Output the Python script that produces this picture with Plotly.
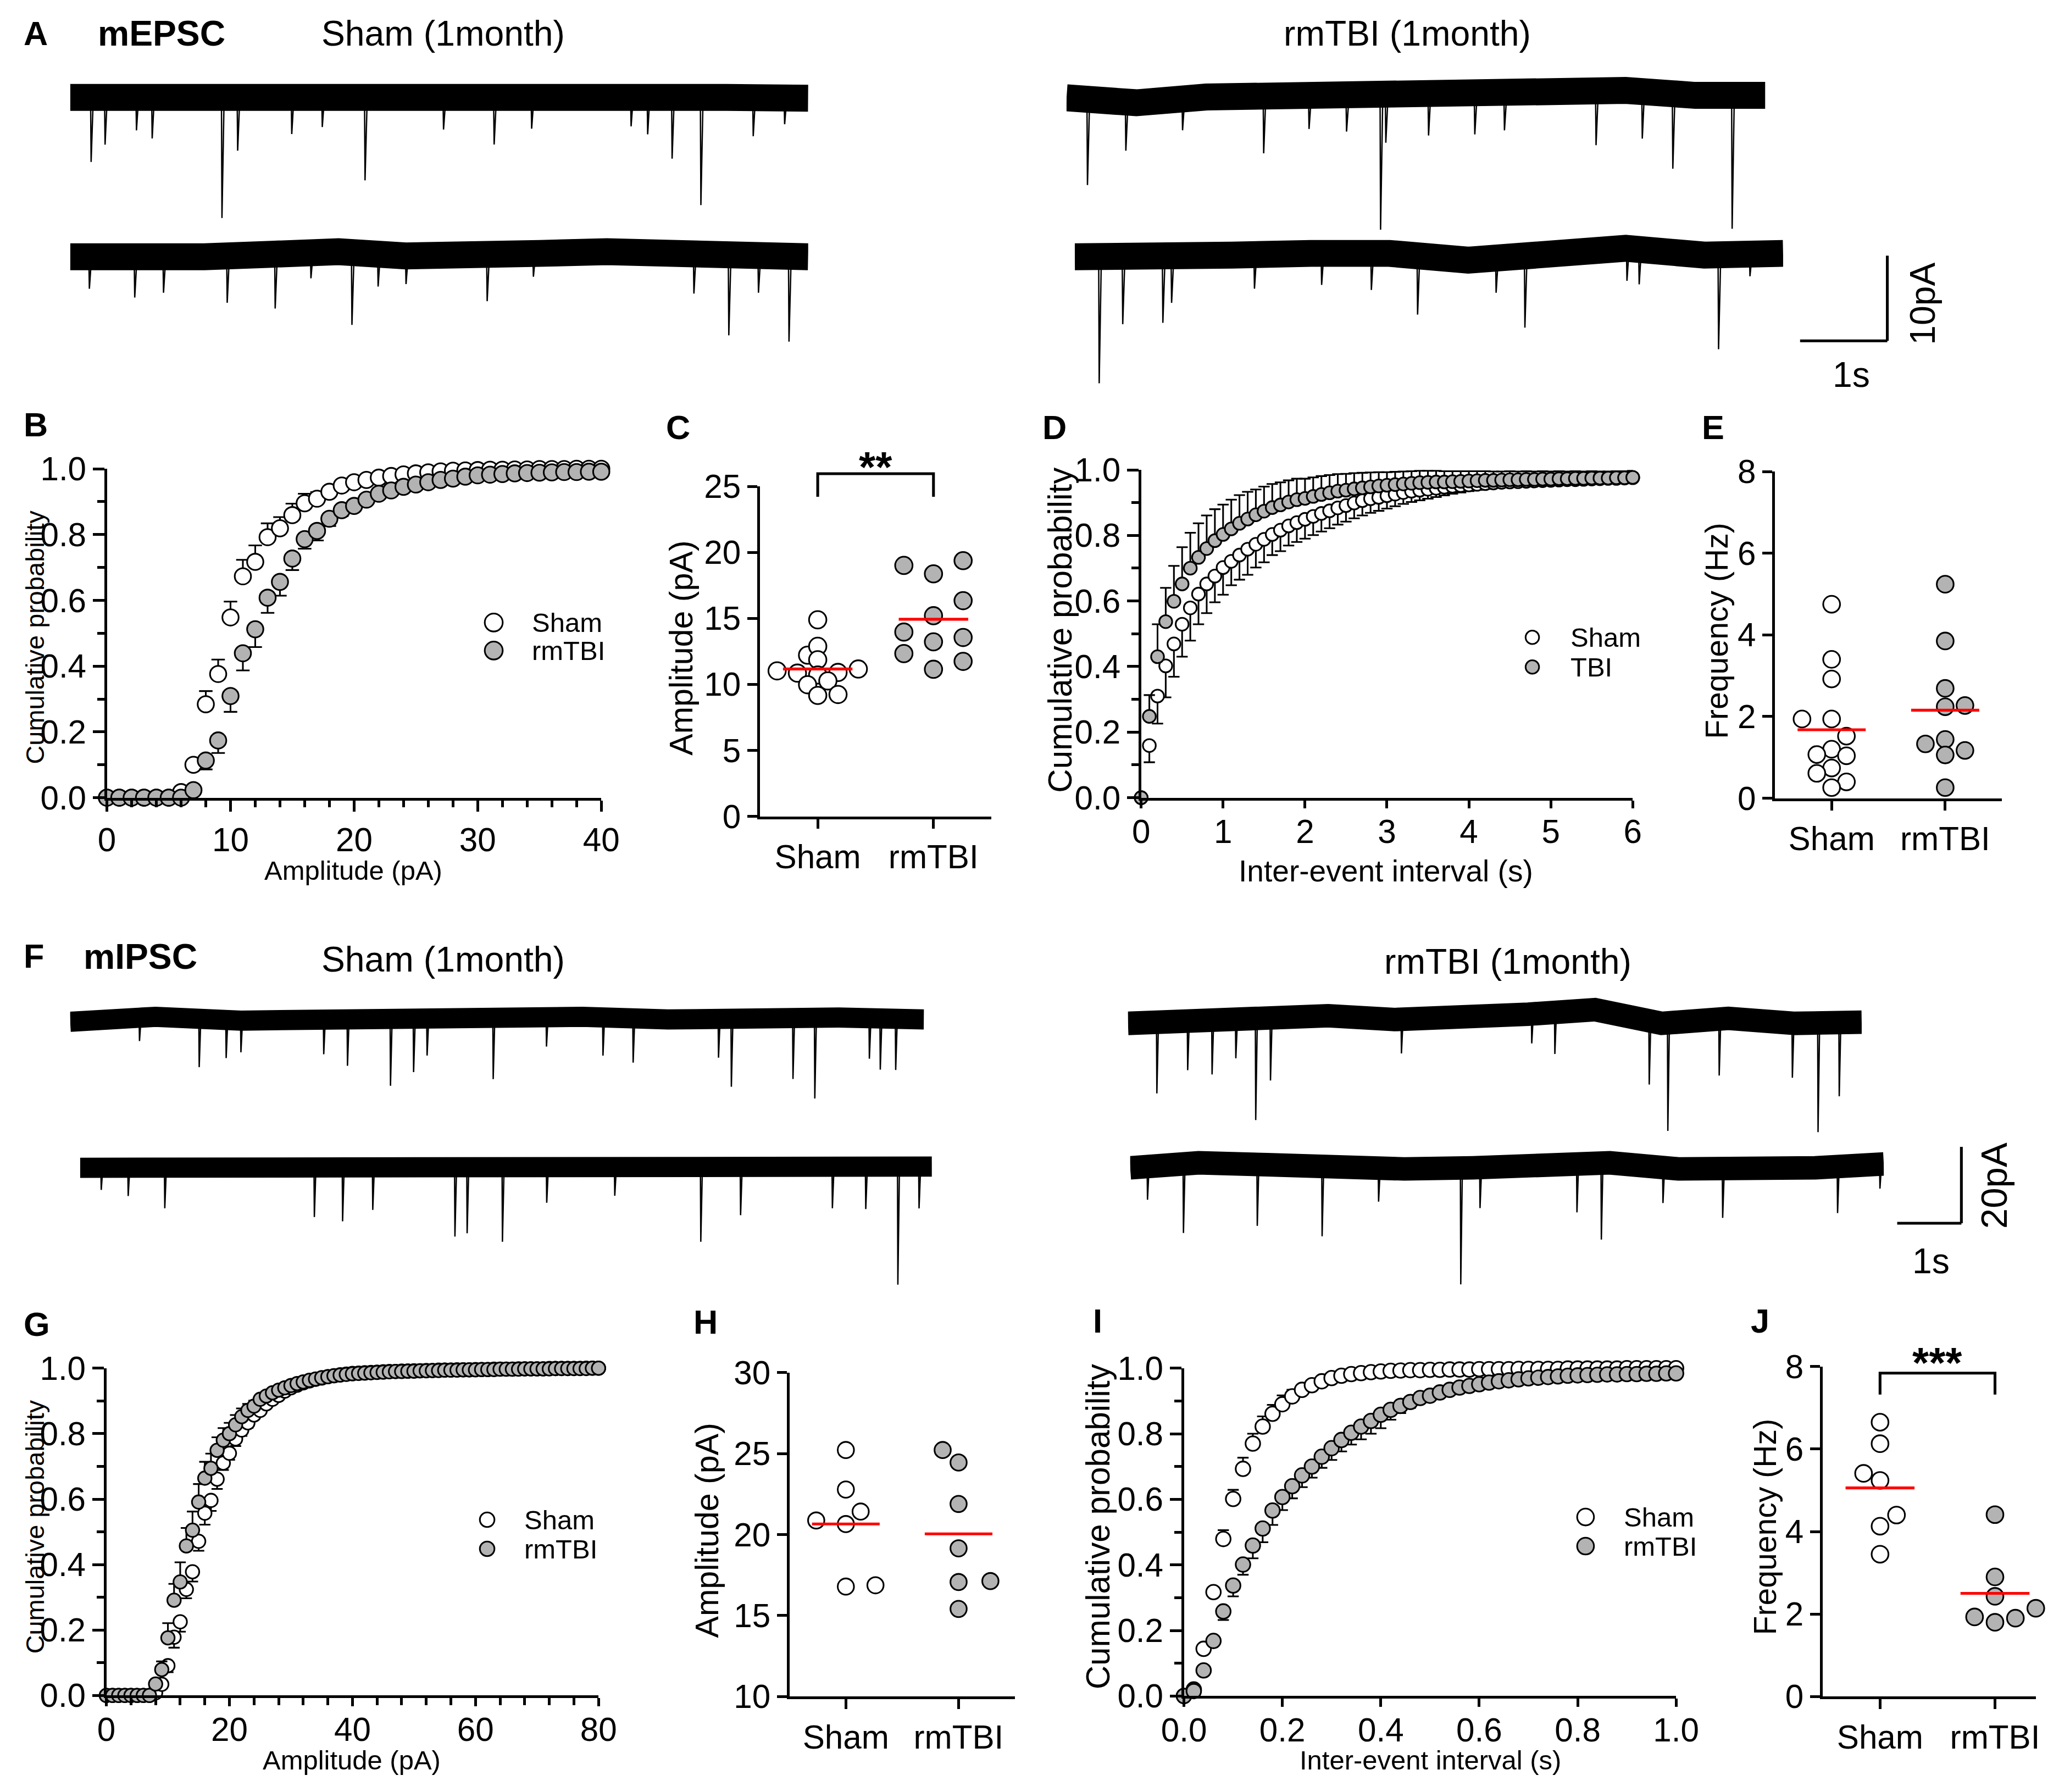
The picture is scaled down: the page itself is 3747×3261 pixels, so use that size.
import numpy as np
import plotly.graph_objects as go

# ======================= DATA =======================
# ---- Panel B: mEPSC amplitude, cumulative probability ----
b_amp = list(range(0, 41))
b_sham = [0, 0, 0, 0, 0, 0, 0.017, 0.10, 0.284, 0.376, 0.548, 0.673, 0.717, 0.792, 0.819, 0.859,
          0.895, 0.909, 0.930, 0.949, 0.959, 0.966, 0.973, 0.978, 0.983, 0.986, 0.989, 0.992, 0.994,
          0.995, 0.996, 0.997, 0.997, 0.998, 0.998, 0.999, 0.999, 0.999, 1.0, 1.0, 1.0]
b_sham_sem = [0, 0, 0, 0, 0, 0, 0, 0.004, 0.040, 0.044, 0.048, 0.050, 0.050, 0.042, 0.034, 0.035,
              0.029, 0.020, 0.015, 0.012, 0.010, 0.008, 0.007, 0.006, 0.005, 0.004, 0.003, 0.003,
              0.003, 0.002, 0.002, 0.002, 0.002, 0.002, 0.001, 0.001, 0.001, 0.001, 0.001, 0.001, 0.001]
b_tbi = [0, 0, 0, 0, 0, 0, 0, 0.023, 0.113, 0.174, 0.309, 0.439, 0.512, 0.608, 0.656, 0.727, 0.786,
         0.811, 0.848, 0.874, 0.887, 0.906, 0.924, 0.934, 0.945, 0.952, 0.959, 0.966, 0.970, 0.976,
         0.980, 0.982, 0.984, 0.986, 0.987, 0.988, 0.989, 0.990, 0.990, 0.991, 0.991]
b_tbi_sem = [0, 0, 0, 0, 0, 0, 0, 0, 0.027, 0.038, 0.048, 0.052, 0.054, 0.046, 0.042, 0.035, 0.029,
             0.029, 0.022, 0.018, 0.015, 0.012, 0.010, 0.009, 0.008, 0.007, 0.006, 0.005, 0.005,
             0.004, 0.004, 0.004, 0.003, 0.003, 0.003, 0.003, 0.002, 0.002, 0.002, 0.002, 0.002]

# ---- Panel C: mEPSC amplitude per cell (pA) ----
c_sham = [14.89, 12.21, 12.88, 11.86, 10.71, 10.90, 11.16, 11.02, 10.85, 10.26, 9.97, 9.23, 9.16]
c_tbi = [19.37, 18.37, 19.01, 16.34, 15.20, 13.55, 13.96, 13.22, 12.33, 11.74, 11.14]

# ---- Panel D: mEPSC inter-event interval, cumulative ----
d_iei = [i / 10 for i in range(61)]
d_sham = [0, 0.159, 0.310, 0.402, 0.469, 0.529, 0.579, 0.621, 0.652, 0.676,
          0.702, 0.721, 0.740, 0.758, 0.773, 0.788, 0.803, 0.816, 0.829, 0.839,
          0.849, 0.858, 0.867, 0.875, 0.884, 0.891, 0.899, 0.906, 0.912, 0.916,
          0.921, 0.926, 0.931, 0.935, 0.938, 0.941, 0.944, 0.947, 0.950, 0.952,
          0.954, 0.956, 0.958, 0.960, 0.962, 0.963, 0.964, 0.965, 0.966, 0.967,
          0.968, 0.969, 0.970, 0.970, 0.971, 0.972, 0.973, 0.974, 0.974, 0.975, 0.976]
d_sham_sem = [0, 0.051, 0.084, 0.096, 0.100, 0.099, 0.100, 0.092, 0.089, 0.080,
              0.083, 0.073, 0.075, 0.078, 0.071, 0.070, 0.063, 0.064, 0.060, 0.059,
              0.059, 0.057, 0.055, 0.053, 0.051, 0.049, 0.047, 0.045, 0.043, 0.041,
              0.039, 0.037, 0.035, 0.033, 0.031, 0.029, 0.027, 0.025, 0.023, 0.021,
              0.019, 0.017, 0.016, 0.015, 0.014, 0.013, 0.012, 0.011, 0.010, 0.010,
              0.009, 0.009, 0.008, 0.008, 0.008, 0.007, 0.007, 0.007, 0.006, 0.006, 0.006]
d_tbi = [0, 0.248, 0.430, 0.537, 0.599, 0.652, 0.700, 0.733, 0.760, 0.784,
         0.803, 0.820, 0.837, 0.850, 0.863, 0.874, 0.885, 0.893, 0.902, 0.909,
         0.913, 0.919, 0.925, 0.930, 0.935, 0.938, 0.942, 0.945, 0.948, 0.951,
         0.953, 0.955, 0.957, 0.959, 0.961, 0.962, 0.963, 0.963, 0.964, 0.965,
         0.966, 0.967, 0.968, 0.968, 0.969, 0.970, 0.970, 0.971, 0.971, 0.972,
         0.972, 0.973, 0.973, 0.974, 0.974, 0.975, 0.975, 0.975, 0.976, 0.976, 0.977]
d_tbi_sem = [0, 0.065, 0.099, 0.103, 0.108, 0.112, 0.108, 0.104, 0.101, 0.096,
             0.091, 0.089, 0.086, 0.083, 0.077, 0.075, 0.072, 0.069, 0.066, 0.064,
             0.060, 0.058, 0.056, 0.054, 0.052, 0.050, 0.048, 0.046, 0.044, 0.042,
             0.040, 0.039, 0.038, 0.037, 0.036, 0.035, 0.034, 0.033, 0.032, 0.031,
             0.030, 0.029, 0.028, 0.027, 0.026, 0.026, 0.025, 0.025, 0.024, 0.024,
             0.023, 0.023, 0.022, 0.022, 0.021, 0.021, 0.020, 0.020, 0.020, 0.020, 0.020]

# ---- Panel E: mEPSC frequency per cell (Hz) ----
e_sham = [4.75, 3.40, 2.92, 1.94, 1.94, 1.52, 1.20, 1.07, 1.04, 0.74, 0.61, 0.40, 0.26]
e_tbi = [5.24, 3.85, 2.69, 2.27, 2.24, 1.44, 1.33, 1.17, 1.06, 0.26]

# ---- Panel G: mIPSC amplitude, cumulative ----
g_amp = list(range(0, 81))
g_sham = [0, 0, 0, 0, 0, 0, 0, 0, 0.008, 0.034, 0.091, 0.178, 0.225, 0.324, 0.378, 0.471, 0.557,
          0.596, 0.661, 0.710, 0.740, 0.784, 0.811, 0.833, 0.857, 0.871, 0.891, 0.905, 0.917, 0.930,
          0.940, 0.948, 0.955, 0.961, 0.966, 0.970, 0.974, 0.977, 0.980, 0.982, 0.984,
          0.985, 0.986, 0.987, 0.988, 0.989, 0.990, 0.990, 0.991, 0.991, 0.992,
          0.992, 0.993, 0.993, 0.994, 0.994, 0.994, 0.995, 0.995, 0.995, 0.996,
          0.996, 0.996, 0.997, 0.997, 0.997, 0.997, 0.998, 0.998, 0.998, 0.998,
          0.998, 0.999, 0.999, 0.999, 0.999, 0.999, 0.999, 1.0, 1.0, 1.0]
g_sham_sem = [0, 0, 0, 0, 0, 0, 0, 0, 0, 0.010, 0.020, 0.032, 0.030, 0.027, 0.030, 0.029, 0.035,
              0.032, 0.030, 0.021, 0.020, 0.022, 0.018, 0.015, 0.013, 0.011, 0.009, 0.008, 0.007,
              0.006, 0.005, 0.004, 0.004, 0.003, 0.003, 0.003, 0.002, 0.002, 0.002, 0.002, 0.002,
              0.002, 0.002, 0.002, 0.002, 0.002, 0.001, 0.001, 0.001, 0.001, 0.001,
              0.001, 0.001, 0.001, 0.001, 0.001, 0.001, 0.001, 0.001, 0.001, 0.001,
              0.001, 0.001, 0.001, 0.001, 0.001, 0.001, 0.001, 0.001, 0.001, 0.001,
              0.001, 0.001, 0.001, 0.001, 0.001, 0.001, 0.001, 0.001, 0.001, 0.001]
g_tbi = [0, 0, 0, 0, 0, 0, 0, 0, 0.035, 0.079, 0.176, 0.291, 0.347, 0.457, 0.505, 0.591, 0.664,
         0.694, 0.749, 0.780, 0.800, 0.827, 0.852, 0.871, 0.884, 0.905, 0.915, 0.925, 0.933, 0.940,
         0.947, 0.953, 0.958, 0.963, 0.967, 0.971, 0.974, 0.977, 0.979, 0.981, 0.983,
         0.984, 0.985, 0.986, 0.987, 0.988, 0.989, 0.990, 0.990, 0.991, 0.991,
         0.992, 0.992, 0.993, 0.993, 0.994, 0.994, 0.994, 0.995, 0.995, 0.995,
         0.996, 0.996, 0.996, 0.997, 0.997, 0.997, 0.997, 0.998, 0.998, 0.998,
         0.998, 0.998, 0.999, 0.999, 0.999, 0.999, 0.999, 0.999, 1.0, 1.0]
g_tbi_sem = [0, 0, 0, 0, 0, 0, 0, 0, 0.010, 0.025, 0.045, 0.050, 0.060, 0.055, 0.057, 0.055, 0.050,
             0.045, 0.040, 0.037, 0.033, 0.030, 0.025, 0.020, 0.017, 0.013, 0.010, 0.008, 0.006,
             0.005, 0.004, 0.004, 0.003, 0.003, 0.003, 0.002, 0.002, 0.002, 0.002, 0.002, 0.002,
             0.002, 0.002, 0.002, 0.002, 0.002, 0.001, 0.001, 0.001, 0.001, 0.001,
             0.001, 0.001, 0.001, 0.001, 0.001, 0.001, 0.001, 0.001, 0.001, 0.001,
             0.001, 0.001, 0.001, 0.001, 0.001, 0.001, 0.001, 0.001, 0.001, 0.001,
             0.001, 0.001, 0.001, 0.001, 0.001, 0.001, 0.001, 0.001, 0.001, 0.001]

# ---- Panel H: mIPSC amplitude per cell (pA) ----
h_sham = [25.22, 22.78, 21.42, 20.65, 20.87, 16.79, 16.87]
h_tbi = [25.22, 24.45, 21.89, 19.15, 17.13, 17.07, 15.41]

# ---- Panel I: mIPSC inter-event interval, cumulative ----
i_iei = [i / 50 for i in range(51)]
i_sham = [0, 0.020, 0.144, 0.317, 0.479, 0.601, 0.693, 0.770, 0.822, 0.861,
          0.890, 0.914, 0.934, 0.948, 0.960, 0.970, 0.977, 0.982, 0.985, 0.988,
          0.990, 0.992, 0.993, 0.994, 0.994, 0.995, 0.995, 0.996, 0.996, 0.996,
          0.997, 0.997, 0.997, 0.997, 0.998, 0.998, 0.998, 0.998, 0.998, 0.999,
          0.999, 0.999, 0.999, 0.999, 0.999, 1.0, 1.0, 1.0, 1.0, 1.0, 1.0]
i_sham_sem = [0, 0, 0, 0, 0.027, 0.028, 0.034, 0.030, 0.031, 0.027,
              0.027, 0.020, 0.015, 0.012, 0.010, 0.008, 0.006, 0.005, 0.004, 0.003,
              0.003, 0.003, 0.002, 0.002, 0.002, 0.002, 0.002, 0.002, 0.001, 0.001,
              0.001, 0.001, 0.001, 0.001, 0.001, 0.001, 0.001, 0.001, 0.001, 0.001,
              0.001, 0.001, 0.001, 0.001, 0.001, 0.001, 0.001, 0.001, 0.001, 0.001, 0.001]
i_tbi = [0, 0.015, 0.078, 0.168, 0.258, 0.337, 0.401, 0.459, 0.511, 0.566,
         0.607, 0.640, 0.673, 0.700, 0.730, 0.756, 0.781, 0.803, 0.822, 0.839,
         0.858, 0.873, 0.885, 0.897, 0.909, 0.916, 0.926, 0.934, 0.941, 0.946,
         0.951, 0.956, 0.960, 0.963, 0.966, 0.969, 0.971, 0.973, 0.975, 0.977,
         0.978, 0.979, 0.980, 0.981, 0.981, 0.982, 0.982, 0.983, 0.983, 0.984, 0.984]
i_tbi_sem = [0, 0, 0, 0, 0.026, 0.033, 0.031, 0.039, 0.042, 0.044,
             0.040, 0.037, 0.036, 0.034, 0.034, 0.036, 0.035, 0.036, 0.039, 0.039,
             0.041, 0.030, 0.022, 0.018, 0.015, 0.013, 0.012, 0.011, 0.010, 0.010,
             0.009, 0.009, 0.008, 0.008, 0.008, 0.007, 0.007, 0.007, 0.006, 0.006,
             0.006, 0.006, 0.005, 0.005, 0.005, 0.005, 0.005, 0.004, 0.004, 0.004, 0.004]

# ---- Panel J: mIPSC frequency per cell (Hz) ----
j_sham = [6.65, 6.13, 5.41, 5.24, 4.40, 4.13, 3.45]
j_tbi = [4.41, 2.90, 2.43, 2.14, 1.90, 1.93, 1.80]

group_labels = ["Sham", "rmTBI"]

# ---- Example recordings (A, F): duration (s), baseline drift (pA), events (s, pA) ----
a_sham1_dur = 8.46
a_sham1_drift = [0, 0.1, 0.2, 0.1, -0.1, -0.3, 0, 0.2, 0, -0.1]
a_sham1_t = [0.24, 0.40, 0.76, 0.94, 1.74, 1.92, 2.54, 2.89, 3.38, 4.28, 4.86, 5.29, 6.43, 6.62, 6.90, 7.23, 7.83, 8.19]
a_sham1_amp = [7.9, 5.8, 4.1, 5.1, 14.9, 6.7, 4.6, 3.7, 10.1, 3.7, 5.5, 3.7, 3.7, 4.7, 7.6, 13.2, 4.7, 3.2]

a_sham2_dur = 8.46
a_sham2_drift = [0, -0.2, 0, 0.3, 0.6, 0.1, 0, 0.4, 0.6, 0.5, 0.1, 0]
a_sham2_t = [0.22, 0.74, 1.07, 1.80, 2.35, 2.76, 3.23, 3.53, 3.85, 4.78, 5.31, 7.15, 7.55, 7.89, 8.24]
a_sham2_amp = [3.7, 4.6, 4.1, 5.5, 6.4, 3.0, 8.5, 3.8, 3.3, 5.3, 2.7, 4.7, 9.4, 4.3, 10.0]

a_tbi1_dur = 8.01
a_tbi1_drift = [0, -0.6, 0.1, 0.3, -0.3, 0.5, 0.1, 0.3, 0.9, 0.3, 0.3]
a_tbi1_t = [0.24, 0.68, 1.33, 2.26, 2.78, 3.21, 3.60, 3.66, 4.15, 4.68, 5.02, 6.07, 6.60, 6.95, 7.63]
a_tbi1_amp = [10.4, 5.9, 3.8, 7.0, 3.8, 3.8, 16.1, 5.6, 5.0, 4.6, 4.1, 6.4, 5.7, 9.1, 16.2]

a_tbi2_dur = 8.12
a_tbi2_drift = [0, -0.2, 0.2, 0.4, 0.4, -0.4, 0.4, 1.0, 0.2, 0.4]
a_tbi2_t = [0.28, 0.55, 1.01, 1.11, 2.06, 2.83, 3.40, 3.93, 4.83, 5.16, 6.33, 6.47, 7.38, 7.74]
a_tbi2_amp = [14.8, 7.8, 7.6, 5.3, 4.0, 3.7, 4.3, 6.9, 4.1, 8.5, 3.8, 4.1, 11.1, 2.6]

f_sham1_dur = 13.3
f_sham1_drift = [-0.3, 1.0, 0, 0.5, 0, 0.8, 1.0, 0.3, 0.8, 0.8, 0.3]
f_sham1_t = [1.08, 2.01, 2.43, 2.66, 3.95, 4.32, 4.99, 5.35, 5.56, 6.59, 7.42, 8.30, 8.77, 10.10, 10.30, 11.26, 11.60, 12.45, 12.62, 12.86]
f_sham1_amp = [6.1, 12.7, 10.0, 8.3, 9.3, 12.2, 17.2, 13.5, 9.3, 16.1, 7.7, 10.0, 11.6, 10.3, 18.0, 16.1, 21.2, 10.6, 13.4, 13.4]

f_sham2_dur = 13.27
f_sham2_drift = [0, 0, 0.3, 0.3, 0, -0.3, 0, 0.3, 0, 0, 0.3]
f_sham2_t = [0.33, 0.75, 1.32, 3.65, 4.09, 4.56, 5.84, 6.03, 6.58, 7.27, 8.33, 9.67, 10.29, 11.72, 12.24, 12.74, 13.07]
f_sham2_amp = [5.8, 7.4, 10.6, 13.2, 14.3, 11.2, 17.9, 17.0, 19.1, 9.0, 7.4, 19.6, 12.5, 10.6, 10.9, 30.8, 10.9]

f_tbi1_dur = 11.43
f_tbi1_drift = [0, 0.6, 1.0, 2.0, 1.0, 1.3, 2.4, 3.6, 0, 1.3, 0, 0.3]
f_tbi1_t = [0.45, 0.93, 1.31, 1.68, 1.99, 2.22, 4.26, 6.29, 6.65, 8.12, 8.41, 9.21, 10.35, 10.75, 11.08]
f_tbi1_amp = [18.6, 12.8, 14.1, 10.0, 26.3, 16.1, 8.9, 7.7, 10.9, 16.7, 28.3, 14.8, 14.3, 28.6, 19.3]

f_tbi2_dur = 11.74
f_tbi2_drift = [0, 1.3, 0.8, 0, -0.3, 0, 0.3, 1.3, -0.3, -0.8, 0, 1.0]
f_tbi2_t = [0.27, 0.83, 1.98, 2.99, 3.87, 5.15, 5.45, 6.96, 7.34, 8.30, 9.23, 11.02, 11.68]
f_tbi2_amp = [8.7, 18.1, 16.1, 18.1, 8.7, 30.5, 10.6, 12.5, 20.0, 9.3, 12.5, 12.2, 6.4]

scale_a = (1, 10)   # 1 s, 10 pA
scale_f = (1, 20)   # 1 s, 20 pA

# ======================= STYLE / LAYOUT =======================
W, H = 3747, 3261
# the photographed page is framed with a small white border; positions below are given
# in final-picture pixels and mapped onto the figure canvas here
SX, SY, PX, PY = 0.9791, 0.9802, 40.0, 33.0
K = 1.0 / 0.98
FONT = "Liberation Sans, Arial, Helvetica, sans-serif"
GRAY = "#b3b3b3"
RED = "#ff0000"
AXW = 5

traces = []
layout = dict(width=W, height=H, margin=dict(l=0, r=0, t=0, b=0, pad=0), autosize=False,
              paper_bgcolor="white", plot_bgcolor="rgba(0,0,0,0)",
              showlegend=False, annotations=[], shapes=[])
_n = [0]


def cx_(t):
    return t / SX - PX


def cy_(t):
    return t / SY - PY


def px2x(t):
    return cx_(t) / W


def px2y(t):
    return 1 - cy_(t) / H


def new_axes(xpx, ypx, xrange, yrange, xkw, ykw):
    _n[0] += 1
    s = "" if _n[0] == 1 else str(_n[0])
    d0, d1 = px2x(xpx[0]), px2x(xpx[1])
    r0, r1 = xrange
    if d1 > 1:
        r1 = r0 + (r1 - r0) * (1 - d0) / (d1 - d0)
        d1 = 1.0
    if d0 < 0:
        r0 = r1 - (r1 - r0) * (d1 - 0) / (d1 - d0)
        d0 = 0.0
    e0, e1 = px2y(ypx[1]), px2y(ypx[0])
    layout["xaxis" + s] = dict(domain=[d0, d1], range=[r0, r1],
                               anchor="y" + s, fixedrange=True, **xkw)
    layout["yaxis" + s] = dict(domain=[max(e0, 0), min(e1, 1)], range=yrange,
                               anchor="x" + s, fixedrange=True, **ykw)
    return "x" + s, "y" + s


def ax_style(size, ticklen=20, **kw):
    d = dict(showline=True, linewidth=AXW * K, linecolor="black", ticks="outside",
             ticklen=ticklen * K, tickwidth=AXW * K, tickcolor="black",
             tickfont=dict(family=FONT, size=size * K, color="black"),
             showgrid=False, zeroline=False)
    d.update(kw)
    return d


def minor(dt, ln=12):
    return dict(dtick=dt, ticks="outside", ticklen=ln * K, tickwidth=AXW * K,
                tickcolor="black", showgrid=False)


def text(s, x, y, size, bold=False, angle=0, xanchor="center"):
    xx = px2x(x)
    if xanchor == "left":
        xx = max(xx, 0.0)
    layout["annotations"].append(dict(
        text=("<b>%s</b>" % s) if bold else s, x=xx, y=px2y(y),
        xref="paper", yref="paper", showarrow=False, textangle=angle,
        xanchor=xanchor, yanchor="middle", borderpad=0,
        font=dict(family=FONT, size=size * K, color="black")))


def legend_item(cx, cy, r, fill, label, tx, size):
    layout["shapes"].append(dict(type="circle", xref="paper", yref="paper",
                                 xsizemode="pixel", ysizemode="pixel",
                                 xanchor=px2x(cx), yanchor=px2y(cy),
                                 x0=-r * K, x1=r * K, y0=-r * K, y1=r * K,
                                 line=dict(color="black", width=3 * K), fillcolor=fill))
    text(label, tx, cy, size, xanchor="left")


def line_px(x0, y0, x1, y1, w=AXW):
    layout["shapes"].append(dict(type="line", xref="paper", yref="paper",
                                 x0=px2x(x0), y0=px2y(y0), x1=px2x(x1), y1=px2y(y1),
                                 line=dict(color="black", width=w * K)))


# ---------------- cumulative panels ----------------
def cum_panel(xpx, ypx, xr, xdt, xminor, xfmt, xs, sham, sham_up, sham_dn, tbi, tbi_up, tbi_dn,
              msize, cap, tsize=59, xticklen=20, xstandoff=0):
    xkw = ax_style(tsize, ticklen=xticklen, tick0=0, dtick=xdt, tickformat=xfmt,
                   **({"minor": minor(xminor)} if xminor else {}))
    if xstandoff:
        xkw["ticklabelstandoff"] = xstandoff
    xa, ya = new_axes(xpx, ypx, xr, [0, 1], xkw,
                      ax_style(tsize, tick0=0, dtick=0.2, tickformat=".1f", minor=minor(0.1)))
    for ys, up, dn, fill in ((sham, sham_up, sham_dn, "white"), (tbi, tbi_up, tbi_dn, GRAY)):
        traces.append(go.Scatter(
            x=xs, y=ys, mode="markers", xaxis=xa, yaxis=ya, cliponaxis=False,
            marker=dict(size=msize * K, color=fill, line=dict(color="black", width=3 * K)),
            error_y=dict(type="data", symmetric=False, array=up, arrayminus=dn,
                         color="black", thickness=3 * K, width=cap * K)))
    return xa, ya


def zeros(v):
    return [0] * len(v)


cum_panel((192, 1093), (853, 1452), [0, 40], 10, 2, "d", b_amp,
          b_sham, b_sham_sem, zeros(b_sham), b_tbi, zeros(b_tbi), b_tbi_sem, 29, 12)
cum_panel((2077, 2973), (855, 1452), [0, 6], 1, None, "d", d_iei,
          d_sham, zeros(d_sham), d_sham_sem, d_tbi, d_tbi_sem, zeros(d_tbi), 23, 10,
          xticklen=14, xstandoff=-9)
cum_panel((191, 1088), (2491, 3087), [0, 80], 20, 4, "d", g_amp,
          g_sham, zeros(g_sham), g_sham_sem, g_tbi, g_tbi_sem, zeros(g_tbi), 24, 10,
          xticklen=14, xstandoff=-9)
cum_panel((2155, 3052), (2491, 3088), [0, 1], 0.2, None, ".1f", i_iei,
          i_sham, i_sham_sem, zeros(i_sham), i_tbi, zeros(i_tbi), i_tbi_sem, 26, 10,
          xticklen=14, xstandoff=-9)


# ---------------- scatter (strip) panels ----------------
def swarm(vals, step_px, min_px, ypu, xpu):
    order = sorted(range(len(vals)), key=lambda i: vals[i])
    placed, offs = [], [0.0] * len(vals)
    for i in order:
        y = vals[i] * ypu
        k, chosen = 0, None
        while chosen is None:
            cands = [0] if k == 0 else [k, -k]
            ok = [c for c in cands
                  if all((c * step_px - px) ** 2 + (y - py) ** 2 >= min_px ** 2 for px, py in placed)]
            if ok:
                s = sum(p[0] for p in placed)
                chosen = min(ok, key=lambda c: abs(s + c * step_px))
            k += 1
        placed.append((chosen * step_px, y))
        offs[i] = chosen * step_px / xpu
    return offs


def strip_panel(xpx, ypx, yr, ydt, sham, tbi, msize, params, tsize=59):
    xa, ya = new_axes(xpx, ypx, [-0.5, 1.5], yr,
                      ax_style(tsize, ticklen=17, tickvals=[0, 1], ticktext=group_labels),
                      ax_style(tsize, ticklen=17, tick0=0, dtick=ydt))
    xpu = (xpx[1] - xpx[0]) / 2.0
    ypu = (ypx[1] - ypx[0]) / float(yr[1] - yr[0])
    for gi, (vals, fill) in enumerate(((sham, "white"), (tbi, GRAY))):
        step, mind = params[gi]
        offs = swarm(vals, step, mind, ypu, xpu)
        traces.append(go.Scatter(
            x=[gi + o for o in offs], y=vals, mode="markers", xaxis=xa, yaxis=ya, cliponaxis=False,
            marker=dict(size=msize * K, color=fill, line=dict(color="black", width=3 * K))))
    for gi, vals in enumerate((sham, tbi)):
        m = float(np.mean(vals))
        traces.append(go.Scatter(x=[gi - 0.3, gi + 0.3], y=[m, m], mode="lines",
                                 xaxis=xa, yaxis=ya, cliponaxis=False,
                                 line=dict(color=RED, width=5 * K)))


def bracket(xpx, y_top, y_bot, stars, star_y, size=76):
    xpu = (xpx[1] - xpx[0]) / 2.0
    x0 = xpx[0] + 0.5 * xpu
    x1 = xpx[0] + 1.5 * xpu
    layout["shapes"].append(dict(type="path", xref="paper", yref="paper",
                                 path="M %f %f L %f %f L %f %f L %f %f" % (
                                     px2x(x0), px2y(y_bot), px2x(x0), px2y(y_top),
                                     px2x(x1), px2y(y_top), px2x(x1), px2y(y_bot)),
                                 line=dict(color="black", width=5 * K)))
    text(stars, (x0 + x1) / 2, star_y, size, bold=True)


strip_panel((1382, 1804), (885, 1486), [0, 25], 5, c_sham, c_tbi, 31, [(18.5, 20), (54, 30)])
strip_panel((3232, 3646), (858, 1453), [0, 8], 2, e_sham, e_tbi, 30, [(27, 28), (18, 28)])
strip_panel((1436, 1847), (2499, 3089), [10, 30], 5, h_sham, h_tbi, 29, [(27, 30), (29, 30)])
strip_panel((3319, 3738), (2488, 3089), [0, 8], 2, j_sham, j_tbi, 30, [(30, 30), (18.6, 28)])
bracket((1382, 1804), 862, 904, "**", 850)
bracket((3319, 3738), 2500, 2539, "***", 2481)


# ---------------- example recordings ----------------
def recording(x0px, base_px, dur, drift, ev_t, ev_amp, pxps, pxpa, band):
    up, dn = 150, 450
    xa, ya = new_axes((x0px, x0px + dur * pxps), (base_px - up, base_px + dn),
                      [0, dur], [-dn / pxpa, up / pxpa],
                      dict(visible=False), dict(visible=False))
    tt = np.linspace(0, dur, len(drift))
    traces.append(go.Scatter(x=tt, y=drift, mode="lines", xaxis=xa, yaxis=ya,
                             line=dict(color="black", width=band * K)))
    ex, ey = [], []
    for t, a in zip(ev_t, ev_amp):
        b = float(np.interp(t, tt, drift))
        ex += [t - 0.006, t, t + 0.025, None]
        ey += [b, b - a, b, None]
    traces.append(go.Scatter(x=ex, y=ey, mode="lines", xaxis=xa, yaxis=ya,
                             line=dict(color="black", width=2.5)))


A_PXS, A_PXA = 159, 15.5
F_PXS, F_PXA = 117, 6.95
recording(125, 160, a_sham1_dur, a_sham1_drift, a_sham1_t, a_sham1_amp, A_PXS, A_PXA, 48)
recording(125, 467, a_sham2_dur, a_sham2_drift, a_sham2_t, a_sham2_amp, A_PXS, A_PXA, 48)
recording(1941, 163, a_tbi1_dur, a_tbi1_drift, a_tbi1_t, a_tbi1_amp, A_PXS, A_PXA, 48)
recording(1956, 467, a_tbi2_dur, a_tbi2_drift, a_tbi2_t, a_tbi2_amp, A_PXS, A_PXA, 48)
recording(125, 1858, f_sham1_dur, f_sham1_drift, f_sham1_t, f_sham1_amp, F_PXS, F_PXA, 36)
recording(143, 2126, f_sham2_dur, f_sham2_drift, f_sham2_t, f_sham2_amp, F_PXS, F_PXA, 36)
recording(2053, 1863, f_tbi1_dur, f_tbi1_drift, f_tbi1_t, f_tbi1_amp, F_PXS, F_PXA, 42)
recording(2057, 2126, f_tbi2_dur, f_tbi2_drift, f_tbi2_t, f_tbi2_amp, F_PXS, F_PXA, 42)

# scale bars
cxp, cyp = 3437, 620
line_px(cxp - scale_a[0] * A_PXS, cyp, cxp, cyp)
line_px(cxp, cyp, cxp, cyp - scale_a[1] * A_PXA)
text("%dpA" % scale_a[1], 3502, 552, 63, angle=-90)
text("%ds" % scale_a[0], 3371, 682, 63)
cxp, cyp = 3572, 2227
line_px(cxp - scale_f[0] * F_PXS, cyp, cxp, cyp)
line_px(cxp, cyp, cxp, cyp - scale_f[1] * F_PXA)
text("%dpA" % scale_f[1], 3631, 2159, 66, angle=-90)
text("%ds" % scale_f[0], 3517, 2296, 63)

# ---------------- texts ----------------
TOP = 60
text("A", 8, TOP, 60, bold=True, xanchor="left")
text("mEPSC", 174, TOP, 63, bold=True, xanchor="left")
text("Sham (1month)", 805, TOP, 63)
text("rmTBI (1month)", 2562, TOP, 63)
text("F", 2, 1741, 60, bold=True, xanchor="left")
text("mIPSC", 148, 1742, 63, bold=True, xanchor="left")
text("Sham (1month)", 805, 1747, 63)
text("rmTBI (1month)", 2745, 1751, 63)
for lab, x, y in (("B", 4, 773), ("C", 1210, 778), ("D", 1896, 778), ("E", 3098, 778),
                  ("G", 4, 2411), ("H", 1260, 2407), ("I", 1988, 2405), ("J", 3187, 2405)):
    text(lab, x, y, 60, bold=True, xanchor="left")

# axis titles
text("Cumulative probability", 61, 1160, 46, angle=-90)
text("Amplitude (pA)", 641, 1585, 48)
text("Amplitude (pA)", 1239, 1179, 58, angle=-90)
text("Cumulative probability", 1930, 1147, 59, angle=-90)
text("Inter-event interval (s)", 2523, 1586, 54)
text("Frequency (Hz)", 3126, 1148, 56, angle=-90)
text("Cumulative probability", 61, 2780, 46, angle=-90)
text("Amplitude (pA)", 638, 3205, 48)
text("Amplitude (pA)", 1286, 2786, 58, angle=-90)
text("Cumulative probability", 1999, 2780, 59, angle=-90)
text("Inter-event interval (s)", 2604, 3205, 48)
text("Frequency (Hz)", 3214, 2780, 56, angle=-90)

# legends
legend_item(897, 1133, 16, "white", "Sham", 966, 48)
legend_item(897, 1184, 16, GRAY, "rmTBI", 966, 48)
legend_item(2790, 1160, 12, "white", "Sham", 2859, 48)
legend_item(2790, 1214, 12, GRAY, "TBI", 2859, 48)
legend_item(885, 2767, 13, "white", "Sham", 952, 48)
legend_item(885, 2820, 13, GRAY, "rmTBI", 952, 48)
legend_item(2887, 2762, 15, "white", "Sham", 2956, 48)
legend_item(2887, 2815, 15, GRAY, "rmTBI", 2956, 48)

fig = go.Figure(data=traces, layout=layout)
fig.write_html(
    "out.html",
    config={"responsive": False, "displayModeBar": False},
    post_script=("document.documentElement.style.margin='0';document.body.style.margin='0';"
                 "document.body.style.padding='0';document.documentElement.style.overflow='hidden';"
                 "document.body.style.overflow='hidden';"),
)
